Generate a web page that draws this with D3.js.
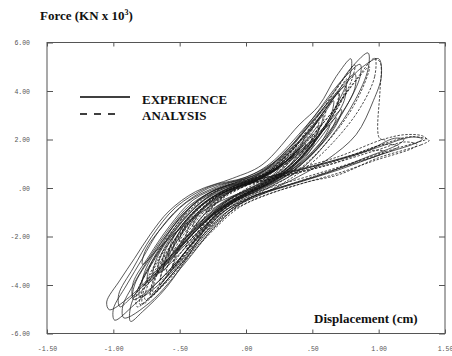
<!DOCTYPE html>
<html>
<head>
<meta charset="utf-8">
<script src="https://cdn.jsdelivr.net/npm/d3@7"></script>
<style>
  body { margin: 0; background: #fff; }
  .tick text { font-family: "Liberation Mono", monospace; font-size: 6.5px; fill: #555; }
  .tick line { stroke: #555; }
  .lbl { font-family: "Liberation Serif", serif; font-weight: bold; font-size: 13px; fill: #111; }
</style>
</head>
<body>
<script>
// tick values and their printed labels
const xTicks = [-1.5, -1, -0.5, 0, 0.5, 1, 1.5];
const xTickLabels = ["-1.50", "-1.00", "-.50", ".00", ".50", "1.00", "1.50"];
const yTicks = [-6, -4, -2, 0, 2, 4, 6];
const yTickLabels = ["-6.00", "-4.00", "-2.00", ".00", "2.00", "4.00", "6.00"];

// EXPERIENCE loops, [displacement cm, force KN x 10^3]
const experienceLoops = [
  [[0.79,5.33],[0.79,4.8],[0.70,3.6],[0.55,2.2],[0.35,0.9],[0.12,0.05],[-0.12,-0.6],[-0.35,-1.6],[-0.62,-3.1],[-0.88,-4.5],[-1.03,-5.02],
   [-1.05,-4.7],[-0.95,-3.8],[-0.84,-2.9],[-0.72,-1.9],[-0.58,-0.95],[-0.38,-0.15],[-0.10,0.4],[0.12,0.95],[0.40,2.6],[0.55,3.4],[0.68,4.6]],
  [[0.92,5.57],[0.92,4.9],[0.82,3.6],[0.64,2.1],[0.42,0.8],[0.16,0.0],[-0.1,-0.7],[-0.32,-1.8],[-0.58,-3.4],[-0.84,-4.8],[-0.99,-5.45],
   [-1.00,-5.0],[-0.90,-4.0],[-0.78,-2.9],[-0.66,-1.8],[-0.50,-0.8],[-0.28,0.0],[-0.02,0.4],[0.18,1.0],[0.46,2.6],[0.64,3.8],[0.80,5.0]],
  [[1.00,5.33],[1.02,4.6],[0.96,3.6],[0.83,2.2],[0.62,1.2],[0.45,0.63],[0.22,0.0],[0.0,-0.5],[-0.22,-1.5],[-0.46,-3.1],[-0.72,-4.7],[-0.92,-5.36],
   [-0.93,-4.9],[-0.84,-3.9],[-0.72,-2.8],[-0.58,-1.7],[-0.42,-0.7],[-0.2,0.0],[0.05,0.4],[0.28,1.2],[0.55,2.9],[0.72,4.1],[0.88,5.0]],
  [[0.86,5.1],[0.86,4.6],[0.76,3.4],[0.58,1.9],[0.36,0.7],[0.12,-0.05],[-0.08,-0.5],[-0.25,-1.22],[-0.40,-2.5],[-0.60,-4.1],[-0.78,-5.1],[-0.87,-5.5],
   [-0.87,-4.9],[-0.78,-3.8],[-0.65,-2.6],[-0.52,-1.5],[-0.36,-0.5],[-0.15,0.1],[0.08,0.5],[0.30,1.5],[0.52,3.0],[0.70,4.3]],
  [[0.72,3.23],[0.68,2.6],[0.52,1.5],[0.30,0.5],[0.05,-0.2],[-0.2,-0.9],[-0.42,-2.0],[-0.62,-3.2],[-0.78,-4.0],
   [-0.76,-3.4],[-0.63,-2.2],[-0.46,-1.0],[-0.24,-0.1],[0.02,0.3],[0.25,0.9],[0.48,1.9],[0.62,2.7]],
  [[0.68,2.9],[0.62,2.2],[0.46,1.2],[0.25,0.35],[0.0,-0.25],[-0.22,-0.9],[-0.42,-1.9],[-0.58,-2.9],[-0.70,-3.6],
   [-0.68,-3.0],[-0.56,-1.9],[-0.39,-0.8],[-0.16,0.0],[0.08,0.35],[0.30,1.0],[0.50,1.9],[0.60,2.5]],
  [[0.63,2.6],[0.58,2.0],[0.42,1.05],[0.2,0.3],[-0.02,-0.3],[-0.22,-1.0],[-0.40,-1.9],[-0.55,-2.7],[-0.63,-3.15],
   [-0.61,-2.6],[-0.49,-1.6],[-0.31,-0.6],[-0.1,0.05],[0.12,0.4],[0.32,1.1],[0.50,1.9]],
  [[0.58,3.0],[0.55,2.4],[0.42,1.4],[0.22,0.5],[0.0,-0.1],[-0.25,-0.7],[-0.48,-1.6],[-0.66,-2.5],[-0.78,-3.15],
   [-0.76,-2.6],[-0.63,-1.6],[-0.45,-0.6],[-0.2,0.1],[0.05,0.5],[0.25,1.2],[0.45,2.2]],
  [[0.50,2.2],[0.46,1.6],[0.32,0.8],[0.12,0.15],[-0.1,-0.4],[-0.3,-1.2],[-0.45,-2.0],[-0.55,-2.6],
   [-0.52,-2.0],[-0.41,-1.1],[-0.22,-0.3],[0.0,0.2],[0.2,0.7],[0.38,1.5]],
  [[0.45,1.8],[0.40,1.3],[0.26,0.6],[0.06,0.0],[-0.14,-0.5],[-0.32,-1.3],[-0.50,-2.2],
   [-0.46,-1.6],[-0.32,-0.8],[-0.12,-0.1],[0.08,0.35],[0.28,1.0]],
  [[0.36,1.3],[0.30,0.9],[0.16,0.35],[-0.02,-0.15],[-0.2,-0.7],[-0.40,-1.6],
   [-0.36,-1.1],[-0.22,-0.45],[-0.04,0.1],[0.16,0.55]],
  [[0.25,0.8],[0.18,0.45],[0.05,0.05],[-0.12,-0.4],[-0.30,-1.0],
   [-0.25,-0.6],[-0.1,-0.1],[0.08,0.3]],
  [[0.75,4.2],[0.74,3.6],[0.62,2.5],[0.44,1.3],[0.22,0.4],[0.0,-0.2],[-0.22,-0.9],[-0.45,-2.2],[-0.68,-3.6],[-0.85,-4.5],
   [-0.85,-3.9],[-0.73,-2.8],[-0.58,-1.6],[-0.40,-0.5],[-0.15,0.15],[0.1,0.6],[0.35,1.8],[0.58,3.2]],
  [[0.82,4.7],[0.82,4.1],[0.70,2.9],[0.50,1.5],[0.28,0.5],[0.05,-0.15],[-0.18,-0.8],[-0.42,-2.0],[-0.68,-3.5],[-0.88,-4.6],[-0.95,-4.9],
   [-0.96,-4.4],[-0.85,-3.3],[-0.71,-2.0],[-0.53,-0.8],[-0.28,0.05],[0.0,0.45],[0.22,1.1],[0.48,2.6],[0.66,3.8]],
  [[1.19,2.0],[1.15,1.8],[0.9,1.25],[0.6,0.6],[0.3,0.1],[0.05,-0.35],[-0.2,-1.1],[-0.42,-2.4],[-0.65,-3.8],[-0.85,-4.6],
   [-0.84,-4.0],[-0.71,-2.8],[-0.55,-1.6],[-0.35,-0.5],[-0.1,0.1],[0.2,0.5],[0.55,0.95],[0.9,1.5],[1.12,2.05]],
  [[1.33,2.02],[1.28,1.85],[1.0,1.35],[0.7,0.75],[0.38,0.2],[0.1,-0.3],[-0.15,-1.0],[-0.38,-2.3],[-0.6,-3.7],[-0.8,-4.5],
   [-0.79,-3.9],[-0.67,-2.7],[-0.5,-1.5],[-0.3,-0.45],[-0.05,0.15],[0.25,0.55],[0.6,1.05],[0.95,1.6],[1.25,2.1]],
  [[0.66,3.6],[0.64,3.0],[0.52,1.9],[0.34,0.8],[0.12,0.0],[-0.1,-0.6],[-0.32,-1.6],[-0.54,-2.8],[-0.74,-3.9],
   [-0.73,-3.3],[-0.62,-2.2],[-0.48,-1.1],[-0.28,-0.2],[-0.04,0.3],[0.2,0.9],[0.44,2.1],[0.58,3.0]],
  [[0.55,2.6],[0.52,2.0],[0.40,1.1],[0.22,0.3],[0.0,-0.25],[-0.2,-0.9],[-0.40,-1.9],[-0.54,-2.8],[-0.62,-3.4],
   [-0.60,-2.8],[-0.50,-1.8],[-0.35,-0.8],[-0.15,-0.05],[0.08,0.4],[0.28,1.1],[0.46,2.0]],
  [[0.40,1.6],[0.36,1.15],[0.24,0.5],[0.06,-0.05],[-0.14,-0.6],[-0.32,-1.4],[-0.45,-2.0],
   [-0.42,-1.5],[-0.30,-0.75],[-0.12,-0.05],[0.08,0.35],[0.26,0.9]],
  [[0.70,3.9],[0.68,3.3],[0.56,2.2],[0.38,1.05],[0.16,0.2],[-0.06,-0.45],[-0.28,-1.4],[-0.48,-2.6],[-0.66,-3.5],
   [-0.65,-2.9],[-0.55,-1.9],[-0.40,-0.9],[-0.2,-0.05],[0.04,0.4],[0.28,1.3],[0.52,2.9]],
  [[0.52,2.0],[0.48,1.5],[0.34,0.75],[0.14,0.1],[-0.08,-0.45],[-0.28,-1.2],[-0.46,-2.1],[-0.58,-2.8],
   [-0.56,-2.2],[-0.45,-1.3],[-0.28,-0.45],[-0.06,0.15],[0.16,0.6],[0.38,1.4]]
];

// ANALYSIS loops
const analysisLoops = [
  [[0.97,5.35],[0.97,4.6],[0.86,3.3],[0.66,1.9],[0.42,0.7],[0.18,-0.1],[-0.05,-0.7],[-0.25,-1.7],[-0.45,-2.9],[-0.65,-4.1],[-0.82,-4.9],
   [-0.82,-4.3],[-0.71,-3.1],[-0.56,-1.8],[-0.36,-0.6],[-0.12,0.15],[0.12,0.55],[0.36,1.4],[0.6,2.8],[0.82,4.4]],
  [[0.93,5.0],[0.90,4.4],[0.78,3.1],[0.58,1.7],[0.36,0.6],[0.12,-0.15],[-0.1,-0.8],[-0.3,-1.9],[-0.5,-3.2],[-0.68,-4.3],[-0.78,-4.8],
   [-0.77,-4.2],[-0.66,-3.0],[-0.51,-1.7],[-0.3,-0.55],[-0.06,0.15],[0.18,0.65],[0.42,1.7],[0.66,3.2],[0.84,4.5]],
  [[0.82,5.08],[0.80,4.5],[0.68,3.2],[0.50,1.8],[0.30,0.65],[0.06,-0.15],[-0.14,-0.8],[-0.32,-1.9],[-0.52,-3.3],[-0.72,-4.5],
   [-0.70,-3.9],[-0.59,-2.7],[-0.44,-1.5],[-0.25,-0.45],[-0.02,0.2],[0.2,0.8],[0.44,2.2],[0.66,3.9]],
  [[0.70,4.0],[0.68,3.4],[0.56,2.3],[0.40,1.2],[0.2,0.3],[0.0,-0.25],[-0.2,-1.0],[-0.38,-2.1],[-0.54,-3.2],[-0.65,-4.0],
   [-0.63,-3.4],[-0.53,-2.3],[-0.38,-1.2],[-0.2,-0.3],[0.02,0.2],[0.22,0.8],[0.42,1.9],[0.58,3.1]],
  [[0.60,3.2],[0.57,2.6],[0.45,1.7],[0.3,0.8],[0.1,0.05],[-0.1,-0.5],[-0.28,-1.4],[-0.44,-2.5],[-0.55,-3.3],
   [-0.52,-2.7],[-0.42,-1.8],[-0.28,-0.9],[-0.1,-0.1],[0.1,0.35],[0.3,1.1],[0.48,2.3]],
  [[0.45,2.3],[0.42,1.8],[0.32,1.1],[0.18,0.4],[0.0,-0.15],[-0.18,-0.7],[-0.32,-1.5],[-0.45,-2.5],
   [-0.42,-1.9],[-0.32,-1.1],[-0.16,-0.3],[0.04,0.2],[0.22,0.8],[0.36,1.6]],
  [[0.30,1.4],[0.26,0.95],[0.14,0.4],[-0.02,-0.1],[-0.18,-0.7],[-0.35,-1.6],
   [-0.30,-1.1],[-0.18,-0.45],[-0.02,0.05],[0.16,0.6]],
  [[0.55,2.8],[0.52,2.2],[0.40,1.3],[0.22,0.45],[0.02,-0.15],[-0.18,-0.8],[-0.38,-1.9],[-0.52,-2.9],[-0.60,-3.6],
   [-0.58,-3.0],[-0.48,-2.0],[-0.33,-1.0],[-0.14,-0.2],[0.08,0.3],[0.28,1.0],[0.45,2.0]],
  [[0.38,1.8],[0.35,1.3],[0.25,0.65],[0.1,0.1],[-0.08,-0.45],[-0.25,-1.2],[-0.40,-2.1],
   [-0.37,-1.5],[-0.26,-0.8],[-0.1,-0.1],[0.08,0.4],[0.26,1.1]],
  [[0.76,4.5],[0.74,3.9],[0.62,2.7],[0.45,1.5],[0.25,0.45],[0.03,-0.2],[-0.17,-0.9],[-0.36,-2.0],[-0.55,-3.3],[-0.70,-4.3],
   [-0.68,-3.7],[-0.57,-2.6],[-0.42,-1.4],[-0.22,-0.35],[0.0,0.2],[0.22,0.85],[0.48,2.4],[0.66,3.7]],
  [[1.38,1.96],[1.32,1.78],[1.0,1.25],[0.7,0.55],[0.48,0.27],[0.25,-0.1],[0.05,-0.5],[-0.15,-1.1],[-0.32,-2.0],[-0.50,-3.2],[-0.68,-4.3],[-0.80,-4.8],
   [-0.78,-4.2],[-0.67,-3.0],[-0.52,-1.8],[-0.34,-0.7],[-0.1,0.0],[0.2,0.4],[0.63,1.03],[1.0,1.75],[1.25,2.12]],
  [[1.29,1.79],[1.26,1.65],[0.98,1.15],[0.7,0.62],[0.4,0.15],[0.15,-0.3],[-0.05,-0.8],[-0.24,-1.7],[-0.44,-2.9],[-0.62,-4.0],[-0.76,-4.6],
   [-0.74,-4.0],[-0.63,-2.9],[-0.48,-1.7],[-0.3,-0.6],[-0.06,0.05],[0.25,0.45],[0.62,0.95],[0.98,1.55],[1.2,1.9]],
  [[1.36,2.02],[1.3,1.9],[1.05,1.5],[0.75,0.95],[0.45,0.45],[0.2,0.05],[-0.02,-0.4],[-0.2,-1.0],[-0.38,-2.1],[-0.56,-3.4],[-0.72,-4.4],
   [-0.70,-3.8],[-0.59,-2.6],[-0.44,-1.5],[-0.26,-0.5],[-0.04,0.1],[0.3,0.65],[0.7,1.3],[1.03,2.0],[1.2,2.2],[1.33,2.15]],
  [[1.15,1.72],[1.1,1.55],[0.85,1.1],[0.55,0.55],[0.3,0.1],[0.08,-0.3],[-0.12,-0.9],[-0.3,-1.8],[-0.48,-2.9],[-0.64,-3.8],
   [-0.62,-3.2],[-0.51,-2.1],[-0.36,-1.0],[-0.16,-0.15],[0.1,0.3],[0.45,0.8],[0.8,1.35],[1.05,1.8]],
  [[1.05,1.5],[1.0,1.35],[0.75,0.9],[0.48,0.4],[0.22,-0.05],[0.0,-0.45],[-0.2,-1.1],[-0.38,-2.2],[-0.55,-3.3],
   [-0.53,-2.7],[-0.41,-1.6],[-0.24,-0.6],[-0.02,0.05],[0.3,0.5],[0.65,1.0],[0.95,1.55]]
];

// analysis strength drop after the peak
const analysisDrop = [[0.97,5.35],[1.01,5.2],[1.02,4.9],[1.01,4.0],[1.005,2.06],[1.05,1.98]];

const width = 452, height = 356;
const svg = d3.select('body')
    .append('svg')
    .attr('width', width)
    .attr('height', height);

const x = d3.scaleLinear().domain([-1.5, 1.5]).range([47, 445]);
const y = d3.scaleLinear().domain([-6, 6]).range([333.5, 42.5]);

// frame
svg.append('rect')
    .attr('x', x(-1.5)).attr('y', y(6))
    .attr('width', x(1.5) - x(-1.5)).attr('height', y(-6) - y(6))
    .attr('fill', 'none').attr('stroke', '#555').attr('stroke-width', 1);

// axes, ticks pointing inward
svg.append('g')
    .attr('transform', `translate(0,${y(-6)})`)
    .call(d3.axisBottom(x).tickValues(xTicks).tickSize(-4).tickPadding(13)
        .tickFormat((d, i) => xTickLabels[i]));
svg.append('g')
    .attr('transform', `translate(0,${y(6)})`)
    .call(d3.axisTop(x).tickValues(xTicks).tickSize(-4).tickFormat(''));
svg.append('g')
    .attr('transform', `translate(${x(-1.5)},0)`)
    .call(d3.axisLeft(y).tickValues(yTicks).tickSize(-6).tickPadding(17)
        .tickFormat((d, i) => yTickLabels[i]));
svg.append('g')
    .attr('transform', `translate(${x(1.5)},0)`)
    .call(d3.axisRight(y).tickValues(yTicks).tickSize(-6).tickFormat(''));
svg.selectAll('.domain').remove();
svg.selectAll('.tick text').attr('font-family', null).attr('font-size', null);

const loopLine = d3.line()
    .x(d => x(d[0]))
    .y(d => y(d[1]))
    .curve(d3.curveCatmullRomClosed.alpha(0.5));

const openLine = d3.line()
    .x(d => x(d[0]))
    .y(d => y(d[1]))
    .curve(d3.curveCatmullRom.alpha(0.5));

const plot = svg.append('g');

plot.selectAll('path.exp')
    .data(experienceLoops)
    .enter()
    .append('path')
    .classed('exp', true)
    .attr('d', loopLine)
    .attr('fill', 'none')
    .attr('stroke', '#222')
    .attr('stroke-width', 0.75);

plot.selectAll('path.ana')
    .data(analysisLoops)
    .enter()
    .append('path')
    .classed('ana', true)
    .attr('d', loopLine)
    .attr('fill', 'none')
    .attr('stroke', '#111')
    .attr('stroke-width', 0.75)
    .attr('stroke-dasharray', '2.5,1.5');

plot.append('path')
    .datum(analysisDrop)
    .attr('d', openLine)
    .attr('fill', 'none')
    .attr('stroke', '#111')
    .attr('stroke-width', 0.75)
    .attr('stroke-dasharray', '2.5,1.5');

// titles
const title = svg.append('text').attr('class', 'lbl').attr('x', 40).attr('y', 20);
title.append('tspan').text('Force (KN x 10');
title.append('tspan').attr('font-size', 8).attr('dy', -5).text('3');
title.append('tspan').attr('dy', 5).text(')');

svg.append('text').attr('class', 'lbl')
    .attr('x', 314).attr('y', 323)
    .text('Displacement (cm)');

// legend
svg.append('line')
    .attr('x1', 80).attr('x2', 130).attr('y1', 97).attr('y2', 97)
    .attr('stroke', '#000').attr('stroke-width', 1.5);
svg.append('line')
    .attr('x1', 80).attr('x2', 122).attr('y1', 114).attr('y2', 114)
    .attr('stroke', '#000').attr('stroke-width', 1.5)
    .attr('stroke-dasharray', '7,7');
svg.append('text').attr('class', 'lbl').attr('x', 142).attr('y', 103.5).text('EXPERIENCE');
svg.append('text').attr('class', 'lbl').attr('x', 142).attr('y', 120).text('ANALYSIS');
</script>
</body>
</html>
